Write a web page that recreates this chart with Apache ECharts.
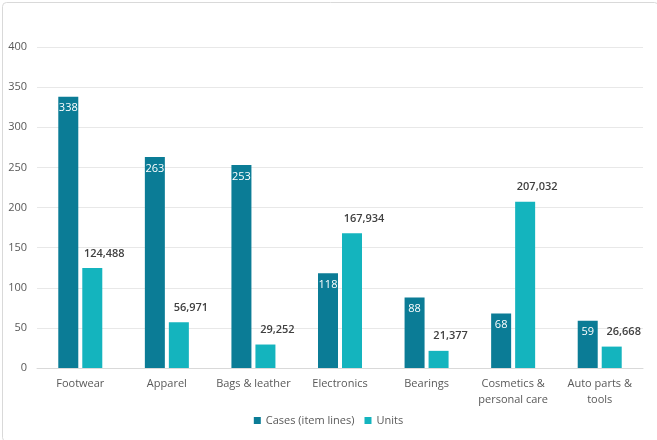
<!DOCTYPE html>
<html><head><meta charset="utf-8">
<script src="https://cdn.jsdelivr.net/npm/echarts@6/dist/echarts.min.js"></script>
<style>html,body{margin:0;padding:0;background:#fff}#c{width:657px;height:440px}</style>
</head><body><div id="c"></div>
<script>
const categories = ['Footwear', 'Apparel', 'Bags & leather', 'Electronics', 'Bearings', 'Cosmetics &\npersonal care', 'Auto parts &\ntools'];
const cases = [338, 263, 253, 118, 88, 68, 59];
const units = [124488, 56971, 29252, 167934, 21377, 207032, 26668];
const yTicks = [0, 400, 50];

const chart = echarts.init(document.getElementById('c'));
const font = '"Open Sans", Lato, sans-serif';
chart.setOption({
  animation: false,
  textStyle: { fontFamily: font },
  graphic: [{
    type: 'rect', left: 0, top: 0,
    shape: { x: 0.5, y: 0.5, width: 656, height: 439, r: 4 },
    style: { fill: 'none', stroke: '#D9D9D9', lineWidth: 1 }
  }],
  grid: { left: 37, right: 14, top: 47, bottom: 72, containLabel: false },
  legend: {
    bottom: 9, left: 'center', itemWidth: 7, itemHeight: 7, itemGap: 10,
    icon: 'rect',
    textStyle: { color: '#595959', fontSize: 11, fontFamily: font },
    data: ['Cases (item lines)', 'Units']
  },
  xAxis: {
    type: 'category', data: categories,
    axisLine: { lineStyle: { color: '#D9D9D9' } },
    axisTick: { show: false },
    axisLabel: { color: '#595959', fontSize: 11, interval: 0, margin: 8, lineHeight: 16, fontFamily: font }
  },
  yAxis: {
    type: 'value', min: yTicks[0], max: yTicks[1], interval: yTicks[2],
    axisLine: { show: false }, axisTick: { show: false },
    axisLabel: { color: '#595959', fontSize: 11, margin: 10, fontFamily: font },
    splitLine: { lineStyle: { color: '#E8E8E8' } }
  },
  series: [{
    name: 'Cases (item lines)', type: 'bar', data: cases,
    barWidth: 20, barGap: '20%',
    itemStyle: { color: '#0B7C96' },
    label: { show: true, position: 'insideTop', distance: 6, color: '#fff', fontSize: 11, fontFamily: font }
  }, {
    name: 'Units', type: 'bar', data: units.map(v => v / 1000),
    barWidth: 20,
    itemStyle: { color: '#14B4BE' },
    label: {
      show: true, position: 'top', distance: 9, offset: [12, 0], color: '#404040', fontSize: 11, fontWeight: 600, fontFamily: font,
      formatter: p => units[p.dataIndex].toLocaleString('en-US')
    }
  }]
});
</script></body></html>
